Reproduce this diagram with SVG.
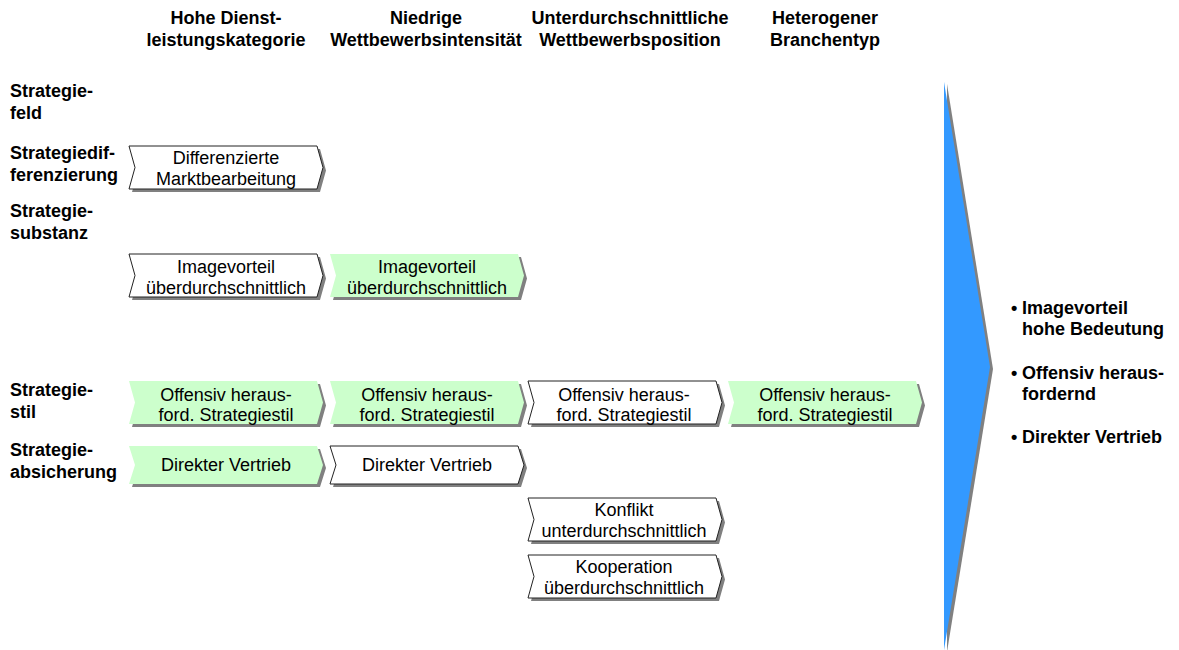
<svg xmlns="http://www.w3.org/2000/svg" xmlns:xlink="http://www.w3.org/1999/xlink" width="1179" height="650" viewBox="0 0 1179 650">
<style>
text{font-family:"Liberation Sans",Arial,sans-serif;font-size:18px;fill:#000}
.b{font-weight:bold}
.c{text-anchor:middle}
.sh{fill:#808080;stroke:none}
.w{fill:#ffffff;stroke:#222;stroke-width:1}
.g{fill:#ccffcc;stroke:none}
</style>
<defs>
<path id="ch43" d="M0,0 H188 L194,21.5 L188,43 H0 L6,21.5 Z"/>
<path id="ch38" d="M0,0 H188 L194,19 L188,38 H0 L6,19 Z"/>
</defs>
<rect width="1179" height="650" fill="#fff"/>

<g id="headers" class="b">
<text class="b c" x="226" y="24">Hohe Dienst-</text>
<text class="b c" x="226" y="46">leistungskategorie</text>
<text class="b c" x="426" y="24">Niedrige</text>
<text class="b c" x="426" y="46">Wettbewerbsintensität</text>
<text class="b c" x="630" y="24">Unterdurchschnittliche</text>
<text class="b c" x="630" y="46">Wettbewerbsposition</text>
<text class="b c" x="825" y="24">Heterogener</text>
<text class="b c" x="825" y="46">Branchentyp</text>
</g>

<g id="rowlabels">
<text class="b" x="10" y="97">Strategie-</text>
<text class="b" x="10" y="119">feld</text>
<text class="b" x="10" y="159">Strategiedif-</text>
<text class="b" x="10" y="181">ferenzierung</text>
<text class="b" x="10" y="217">Strategie-</text>
<text class="b" x="10" y="239">substanz</text>
<text class="b" x="10" y="396">Strategie-</text>
<text class="b" x="10" y="418">stil</text>
<text class="b" x="10" y="456">Strategie-</text>
<text class="b" x="10" y="478">absicherung</text>
</g>

<g id="n-differenzierte">
<use href="#ch43" x="132" y="149" class="sh"/>
<use href="#ch43" x="129" y="146" class="w"/>
<text class="c" x="226" y="164">Differenzierte</text>
<text class="c" x="226" y="185">Marktbearbeitung</text>
</g>

<g id="n-image1">
<use href="#ch43" x="132" y="257" class="sh"/>
<use href="#ch43" x="129" y="254" class="w"/>
<text class="c" x="226" y="273">Imagevorteil</text>
<text class="c" x="226" y="294">überdurchschnittlich</text>
</g>
<g id="n-image2">
<use href="#ch43" x="333" y="257" class="sh"/>
<use href="#ch43" x="330" y="254" class="g"/>
<text class="c" x="427" y="273">Imagevorteil</text>
<text class="c" x="427" y="294">überdurchschnittlich</text>
</g>

<g id="n-offensiv1">
<use href="#ch43" x="132" y="384" class="sh"/>
<use href="#ch43" x="129" y="381" class="g"/>
<text class="c" x="226" y="401">Offensiv heraus-</text>
<text class="c" x="226" y="421">ford. Strategiestil</text>
</g>
<g id="n-offensiv2">
<use href="#ch43" x="333" y="384" class="sh"/>
<use href="#ch43" x="330" y="381" class="g"/>
<text class="c" x="427" y="401">Offensiv heraus-</text>
<text class="c" x="427" y="421">ford. Strategiestil</text>
</g>
<g id="n-offensiv3">
<use href="#ch43" x="531" y="384" class="sh"/>
<use href="#ch43" x="528" y="381" class="w"/>
<text class="c" x="624" y="401">Offensiv heraus-</text>
<text class="c" x="624" y="421">ford. Strategiestil</text>
</g>
<g id="n-offensiv4">
<use href="#ch43" x="731" y="384" class="sh"/>
<use href="#ch43" x="728" y="381" class="g"/>
<text class="c" x="825" y="401">Offensiv heraus-</text>
<text class="c" x="825" y="421">ford. Strategiestil</text>
</g>

<g id="n-direkt1">
<use href="#ch38" x="132" y="449" class="sh"/>
<use href="#ch38" x="129" y="446" class="g"/>
<text class="c" x="226" y="471">Direkter Vertrieb</text>
</g>
<g id="n-direkt2">
<use href="#ch38" x="333" y="449" class="sh"/>
<use href="#ch38" x="330" y="446" class="w"/>
<text class="c" x="427" y="471">Direkter Vertrieb</text>
</g>

<g id="n-konflikt">
<use href="#ch43" x="531" y="501" class="sh"/>
<use href="#ch43" x="528" y="498" class="w"/>
<text class="c" x="624" y="516">Konflikt</text>
<text class="c" x="624" y="537">unterdurchschnittlich</text>
</g>
<g id="n-kooperation">
<use href="#ch43" x="531" y="558" class="sh"/>
<use href="#ch43" x="528" y="555" class="w"/>
<text class="c" x="624" y="573">Kooperation</text>
<text class="c" x="624" y="594">überdurchschnittlich</text>
</g>

<g id="n-arrow">
<polygon points="947,84 993,369 947,652" fill="#808080"/>
<polygon points="944,82 990,367 944,650" fill="#3399ff"/>
</g>

<g id="n-summary">
<text class="b" x="1011" y="314">•</text>
<text class="b" x="1022" y="314">Imagevorteil</text>
<text class="b" x="1022" y="335">hohe Bedeutung</text>
<text class="b" x="1011" y="379">•</text>
<text class="b" x="1022" y="379">Offensiv heraus-</text>
<text class="b" x="1022" y="400">fordernd</text>
<text class="b" x="1011" y="443">•</text>
<text class="b" x="1022" y="443">Direkter Vertrieb</text>
</g>

<g id="connectors"/>
</svg>
